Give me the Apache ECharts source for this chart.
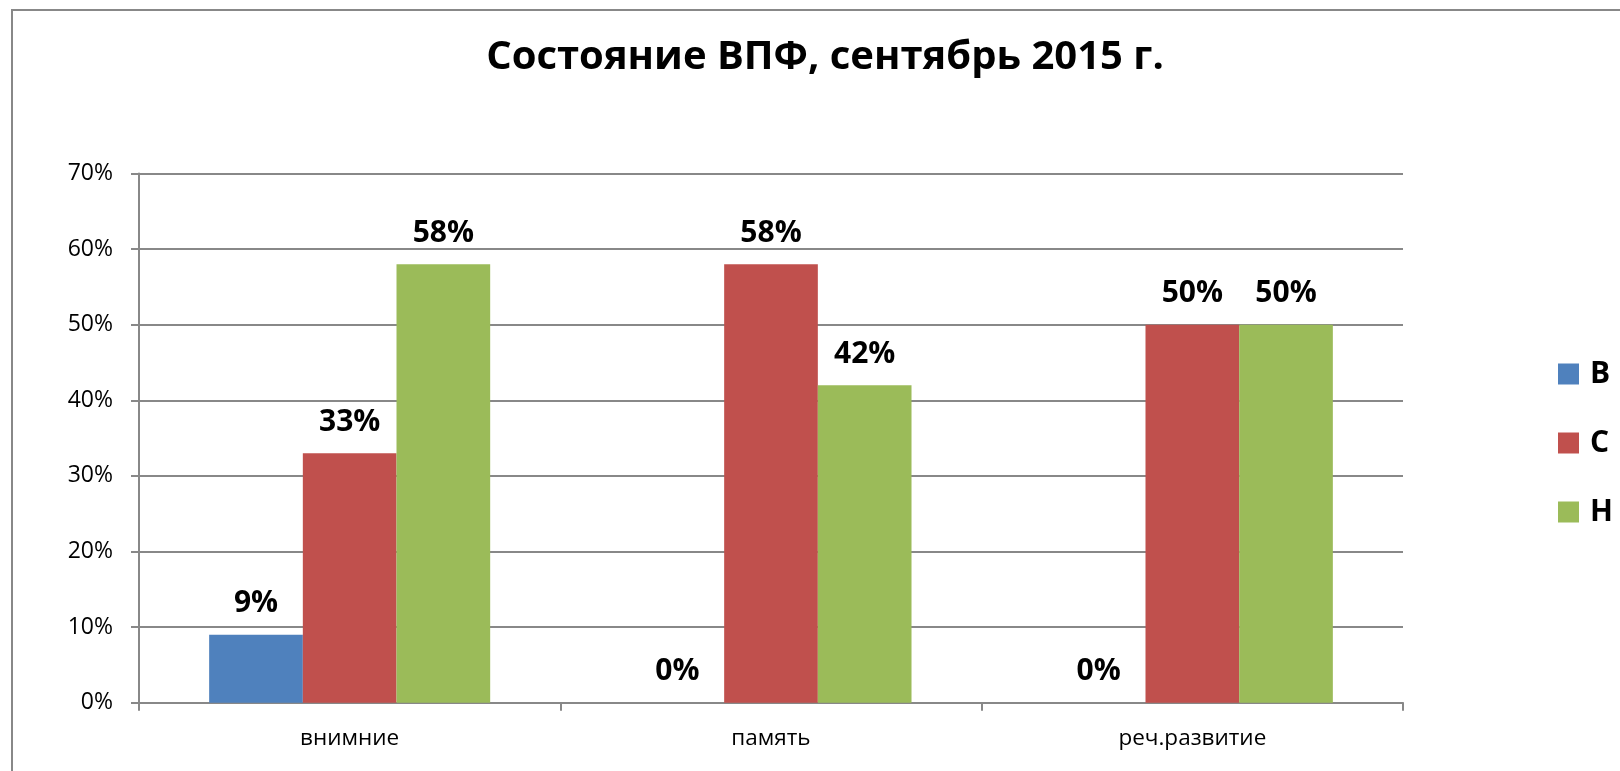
<!DOCTYPE html>
<html><head><meta charset="utf-8">
<script src="https://cdn.jsdelivr.net/npm/echarts@6/dist/echarts.min.js"></script>
<style>html,body{margin:0;padding:0;background:#fff}#c{width:1620px;height:771px}</style>
</head><body><div id="c"></div>
<script>
const categories = ['внимние', 'память', 'реч.развитие'];
const seriesNames = ['В', 'С', 'Н'];
const valuesB = [9, 0, 0];
const valuesC = [33, 58, 50];
const valuesH = [58, 42, 50];
const colors = ['#4F81BD', '#C0504D', '#9BBB59'];
const titleText = 'Состояние ВПФ, сентябрь 2015 г.';

const chart = echarts.init(document.getElementById('c'));
const lbl = {show: true, position: 'top', distance: 16, formatter: p => p.value + '%', fontFamily: 'Open Sans', fontWeight: 'bold', fontSize: 30, color: '#000'};
const data = [valuesB, valuesC, valuesH];
chart.setOption({
  animation: false,
  title: {text: titleText, left: 820, top: 33, textAlign: 'center', textStyle: {fontFamily: 'Open Sans', fontWeight: 'bold', fontSize: 40, color: '#000'}},
  graphic: [{type: 'rect', shape: {x: 12, y: 10, width: 1700, height: 900}, style: {fill: null, stroke: '#888', lineWidth: 2}, silent: true}],
  legend: {orient: 'vertical', left: 1558, top: 359, padding: 0, itemWidth: 21, itemHeight: 21, itemGap: 39, icon: 'rect',
    textStyle: {fontFamily: 'Open Sans', fontWeight: 'bold', fontSize: 30, color: '#000', padding: [0, 0, 0, 6]}},
  grid: {left: 139, right: 217, top: 173.5, bottom: 68.3, containLabel: false},
  xAxis: {type: 'category', data: categories,
    axisLine: {lineStyle: {color: '#888', width: 2}},
    axisTick: {show: true, length: 8, lineStyle: {color: '#888', width: 2}},
    axisLabel: {fontFamily: 'Open Sans', fontSize: 22.5, color: '#000', margin: 24}},
  yAxis: {type: 'value', min: 0, max: 70, interval: 10,
    axisLine: {show: true, lineStyle: {color: '#888', width: 2}},
    axisTick: {show: true, length: 8, lineStyle: {color: '#888', width: 2}},
    splitLine: {lineStyle: {color: '#888', width: 2}},
    axisLabel: {formatter: v => v + '%', fontFamily: 'Open Sans', fontSize: 23, color: '#000', margin: 26}},
  series: seriesNames.map((n, i) => ({name: n, type: 'bar', data: data[i], barGap: '0%', barCategoryGap: '33.3%',
    itemStyle: {color: colors[i]}, label: lbl}))
});
</script></body></html>
